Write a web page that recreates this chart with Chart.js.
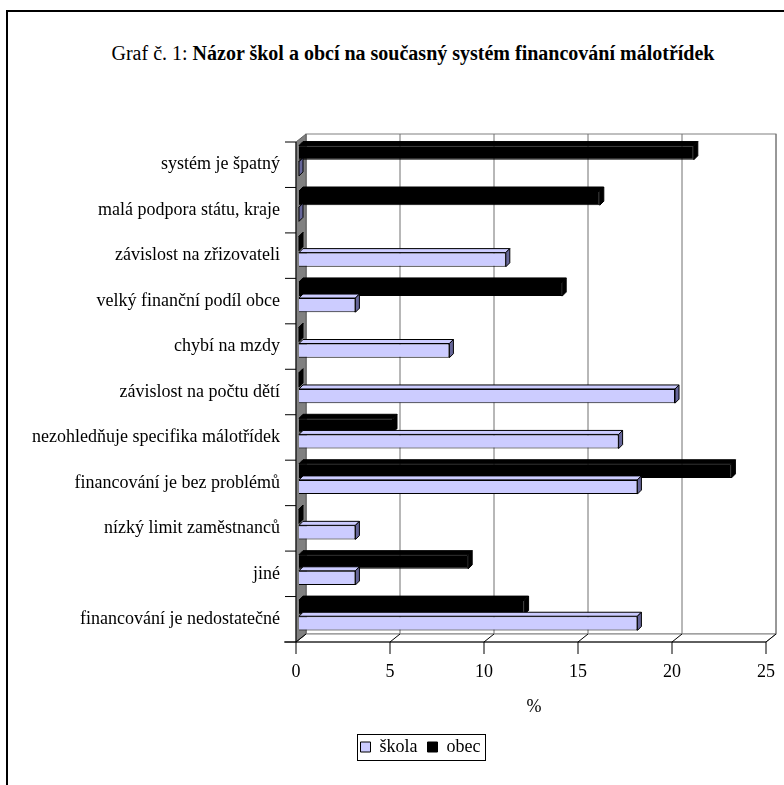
<!DOCTYPE html>
<html>
<head>
<meta charset="utf-8">
<script src="https://cdn.jsdelivr.net/npm/chart.js@4"></script>
<style>
  html, body { margin: 0; padding: 0; background: #fff; }
  #wrap  { position: relative; width: 784px; height: 785px; overflow: hidden; }
  #frame { position: absolute; left: 6px; top: 10px; width: 900px; height: 900px;
           border-left: 2px solid #000; border-top: 2px solid #000; }
  #title { position: absolute; left: 0; top: 42px; width: 826px; text-align: center;
           font-family: "Liberation Serif", serif; font-size: 20px; color: #000; }
  canvas { position: absolute; left: 0; top: 0; }
</style>
</head>
<body>
<div id="wrap">
  <div id="frame"></div>
  <div id="title">Graf č. 1: <b>Názor škol a obcí na současný systém financování málotřídek</b></div>
  <canvas id="chart" width="840" height="785"></canvas>
</div>
<script>
// Graf č. 1 — názor škol a obcí, horizontal bars with a fake 3D frame

const categories = [
  "systém je špatný",
  "malá podpora státu, kraje",
  "závislost na zřizovateli",
  "velký finanční podíl obce",
  "chybí na mzdy",
  "závislost na počtu dětí",
  "nezohledňuje specifika málotřídek",
  "financování je bez problémů",
  "nízký limit zaměstnanců",
  "jiné",
  "financování je nedostatečné"
];
const skolaValues = [0, 0, 11, 3, 8, 20, 17, 18, 3, 3, 18];
const obecValues  = [21, 16, 0, 14, 0, 0, 5, 23, 0, 9, 12];
const xTicks      = [0, 5, 10, 15, 20, 25];

const FONT = "Liberation Serif";

// ── 3D frame: back wall, side wall, floor, slanted ticks ──────
const BACK  = { dx: 7,  dy: -4 };
const FRONT = { dx: -3, dy: 4 };
const LEGEND_SHIFT = 36;   // the original legend sits right of centre

function line(ctx, x1, y1, x2, y2) {
  ctx.beginPath();
  ctx.moveTo(x1, y1);
  ctx.lineTo(x2, y2);
  ctx.stroke();
}

function poly(ctx, pts, fill, stroke) {
  ctx.beginPath();
  ctx.moveTo(pts[0][0], pts[0][1]);
  for (let i = 1; i < pts.length; i++) ctx.lineTo(pts[i][0], pts[i][1]);
  ctx.closePath();
  if (fill)   { ctx.fillStyle = fill; ctx.fill(); }
  if (stroke) { ctx.strokeStyle = stroke; ctx.stroke(); }
}

const depthPlugin = {
  id: "depth",
  afterLayout(chart) {
    if (chart.legend) {
      chart.legend.left  += LEGEND_SHIFT;
      chart.legend.right += LEGEND_SHIFT;
    }
  },

  beforeDatasetsDraw(chart) {
    const { ctx, chartArea: a, scales: { x } } = chart;
    const x0 = x.getPixelForValue(x.min);
    const x1 = x.getPixelForValue(x.max);
    ctx.save();
    ctx.lineWidth = 1;

    // back wall + vertical gridlines
    ctx.strokeStyle = "#808080";
    ctx.strokeRect(x0 + BACK.dx, a.top + BACK.dy, x1 - x0, a.bottom - a.top);
    ctx.strokeStyle = "#707070";
    xTicks.forEach(v => {
      const px = x.getPixelForValue(v) + BACK.dx;
      line(ctx, px, a.top + BACK.dy, px, a.bottom + BACK.dy);
    });

    // floor
    poly(ctx, [
      [x0 + FRONT.dx, a.bottom + FRONT.dy],
      [x0 + BACK.dx,  a.bottom + BACK.dy],
      [x1 + BACK.dx,  a.bottom + BACK.dy],
      [x1 + FRONT.dx, a.bottom + FRONT.dy]
    ], "#fff", "#808080");

    // left side wall
    poly(ctx, [
      [x0 + FRONT.dx, a.top + FRONT.dy],
      [x0 + BACK.dx,  a.top + BACK.dy],
      [x0 + BACK.dx,  a.bottom + BACK.dy],
      [x0 + FRONT.dx, a.bottom + FRONT.dy]
    ], "#808080", "#606060");

    // slanted tick connectors and front tick marks
    ctx.strokeStyle = "#000";
    xTicks.forEach(v => {
      const px = x.getPixelForValue(v);
      line(ctx, px + FRONT.dx, a.bottom + FRONT.dy, px + BACK.dx, a.bottom + BACK.dy);
      line(ctx, px + FRONT.dx, a.bottom + FRONT.dy, px + FRONT.dx, a.bottom + FRONT.dy + 12);
    });

    // front axes
    line(ctx, x0 + FRONT.dx - 12, a.bottom + FRONT.dy, x1 + FRONT.dx, a.bottom + FRONT.dy);
    line(ctx, x0 + FRONT.dx, a.top + FRONT.dy, x0 + FRONT.dx, a.bottom + FRONT.dy);

    // category separators on the left
    const band = (a.bottom - a.top) / categories.length;
    for (let i = 0; i <= categories.length; i++) {
      const yy = a.top + i * band + FRONT.dy;
      line(ctx, x0 + FRONT.dx - 11, yy, x0 + FRONT.dx, yy);
    }
    ctx.restore();
  },

  afterDatasetsDraw(chart) {
    const { ctx } = chart;
    const d = 4;
    const looks = [
      { top: "#000",    side: "#000",    edge: "#000" },   // obec
      { top: "#CCCCFF", side: "#666699", edge: "#000" }    // škola
    ];
    ctx.save();
    ctx.lineWidth = 1;
    [0, 1].forEach(di => {
      const look = looks[di];
      chart.getDatasetMeta(di).data.forEach(el => {
        const p = el.getProps(["x", "y", "base", "height"], true);
        const t = p.y - p.height / 2, b = p.y + p.height / 2;
        const l = Math.min(p.base, p.x), r = Math.max(p.base, p.x);
        poly(ctx, [[l, t], [l + d, t - d], [r + d, t - d], [r, t]], look.top, look.edge);
        poly(ctx, [[r, t], [r + d, t - d], [r + d, b - d], [r, b]], look.side, look.edge);
      });
    });
    ctx.restore();
  },

  afterDraw(chart) {
    // box around the legend
    const boxes = chart.legend && chart.legend.legendHitBoxes;
    if (!boxes || !boxes.length) return;
    const left   = Math.min(...boxes.map(h => h.left)) - 4;
    const right  = Math.max(...boxes.map(h => h.left + h.width)) + 4;
    const top    = Math.min(...boxes.map(h => h.top)) - 4;
    const bottom = Math.max(...boxes.map(h => h.top + h.height)) + 4;
    const ctx = chart.ctx;
    ctx.save();
    ctx.strokeStyle = "#000";
    ctx.lineWidth = 1;
    ctx.strokeRect(Math.round(left) + 0.5, Math.round(top) + 0.5, Math.round(right - left), Math.round(bottom - top));
    ctx.restore();
  }
};

new Chart(document.getElementById("chart").getContext("2d"), {
  type: "bar",
  data: {
    labels: categories,
    datasets: [
      { label: "obec",  data: obecValues,  backgroundColor: "#000",    borderColor: "#000", borderWidth: 1 },
      { label: "škola", data: skolaValues, backgroundColor: "#CCCCFF", borderColor: "#000", borderWidth: 1 }
    ]
  },
  options: {
    indexAxis: "y",
    responsive: false,
    animation: false,
    categoryPercentage: 0.71,
    barPercentage: 0.88,
    layout: { padding: { top: 138, right: 71, left: 0, bottom: 19 } },
    scales: {
      x: {
        min: 0,
        max: 25,
        afterBuildTicks: s => { s.ticks = xTicks.map(v => ({ value: v })); },
        afterFit: s => { s.height = 90; },
        grid:   { display: false },
        border: { display: false },
        ticks:  { color: "#000", padding: 15, labelOffset: -3, font: { family: FONT, size: 18 } },
        title:  { display: true, text: "%", color: "#000", padding: { top: 0, bottom: 10 },
                  font: { family: FONT, size: 18 } }
      },
      y: {
        afterFit: s => { s.width = 299; },
        grid:   { display: false },
        border: { display: false },
        ticks:  { color: "#000", padding: 11, labelOffset: 4, font: { family: FONT, size: 18 } }
      }
    },
    plugins: {
      legend: {
        position: "bottom",
        reverse: true,
        labels: { color: "#000", boxWidth: 10, boxHeight: 10, padding: 10,
                  font: { family: FONT, size: 18 } }
      },
      tooltip: { enabled: false }
    }
  },
  plugins: [depthPlugin]
});
</script>
</body>
</html>
